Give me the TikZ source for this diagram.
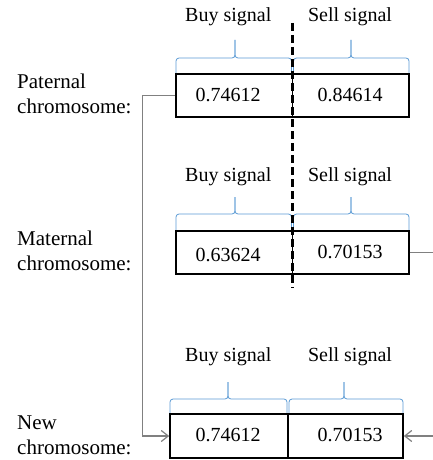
\documentclass[tikz,border=0pt]{standalone}
\usepackage{fontspec}
\setmainfont{Liberation Serif}
\usetikzlibrary{arrows.meta}
\definecolor{bracec}{HTML}{5B9BD5}
\definecolor{connc}{HTML}{808080}
\tikzset{
 cell/.style={draw=black, line width=1.6pt, inner sep=0pt, minimum height=43pt},
 val/.style={font=\fontsize{20}{24}\selectfont, inner sep=0pt, anchor=base},
 sig/.style={font=\fontsize{20}{24}\selectfont, inner sep=0pt, anchor=base},
 rowlabel/.style={font=\fontsize{21}{25.5}\selectfont, align=left, inner sep=0pt, anchor=west},
 bracepath/.style={draw=bracec, line width=0.8pt, rounded corners=3pt},
 conn/.style={draw=connc, line width=1.2pt},
 conntip/.style={-{Straight Barb[length=7pt,width=11pt]}},
 cutline/.style={draw=black, line width=3.4pt, dash pattern=on 8pt off 4pt},
}
\newcommand{\sigbrace}[6]{%
 \draw[bracepath] (#1,#4) -- (#1,#5) -- (#3,#5) -- (#3,#6);
 \draw[bracepath] (#2,#4) -- (#2,#5) -- (#3,#5) -- (#3,#6);
}
\begin{document}
\begin{tikzpicture}[x=1pt,y=-1pt]
\useasboundingbox (0,0) rectangle (433,460);
\fill[white] (0,0) rectangle (433,460);

% row labels
\node[rowlabel] (lpat) at (17,94) {Paternal\\chromosome:};
\node[rowlabel] (lmat) at (17,251) {Maternal\\chromosome:};
\node[rowlabel] (lnew) at (17,435.4) {New\\chromosome:};

% signal titles
\node[sig] (pbuy) at (228.3,21.7) {Buy signal};
\node[sig] (psell) at (350,21.7) {Sell signal};
\node[sig] (mbuy) at (228.3,181.7) {Buy signal};
\node[sig] (msell) at (350,181.7) {Sell signal};
\node[sig] (nbuy) at (228.3,361.7) {Buy signal};
\node[sig] (nsell) at (350,361.7) {Sell signal};

% braces
\sigbrace{176}{291.5}{235}{73}{58}{40}
\sigbrace{293.5}{409}{351}{73}{58}{40}
\sigbrace{176}{291.5}{235}{230}{214}{197}
\sigbrace{293.5}{409}{351}{230}{214}{197}
\sigbrace{170}{287}{228}{413}{399}{382}
\sigbrace{289}{403}{344}{413}{399}{382}

% cells
\node[cell, minimum width=116.5pt] (p1) at (234.25,95.5) {};
\node[cell, minimum width=116.5pt] (p2) at (350.75,95.5) {};
\node[cell, minimum width=116.5pt] (m1) at (234.25,252.5) {};
\node[cell, minimum width=116.5pt] (m2) at (350.75,252.5) {};
\node[cell, minimum width=118pt, minimum height=44pt] (n1) at (229,436) {};
\node[cell, minimum width=115pt, minimum height=44pt] (n2) at (345.5,436) {};

% values
\node[val] (vp1) at (228,101.7) {0.74612};
\node[val] (vp2) at (350,101.7) {0.84614};
\node[val] (vm1) at (228,261) {0.63624};
\node[val] (vm2) at (350,258.3) {0.70153};
\node[val] (vn1) at (228,441.7) {0.74612};
\node[val] (vn2) at (350,441.7) {0.70153};

% crossover cut
\coordinate (cutTop) at (292.5,23);
\coordinate (cutBot) at (292.5,288);
\draw[cutline] (cutTop) -- (cutBot);

% connectors
\draw[conn, conntip] (p1.west) -- ++(-33,0) |- (n1.west);
\draw[conn, conntip] (m2.east) -- (437,252.5) |- (n2.east);
\end{tikzpicture}
\end{document}
